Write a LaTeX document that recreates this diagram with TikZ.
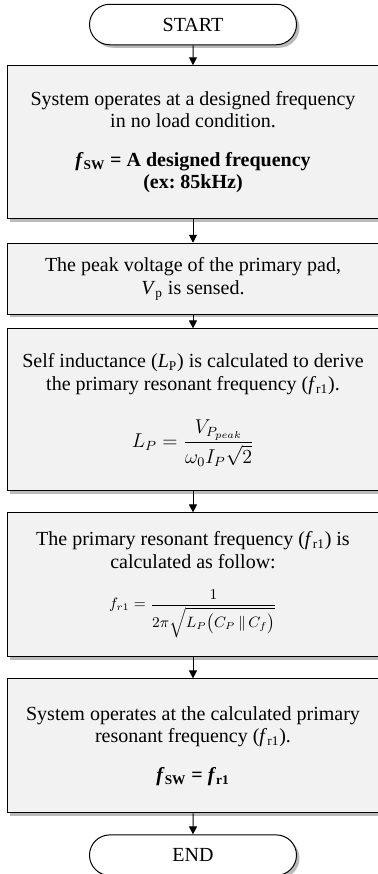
\documentclass[tikz,border=0pt]{standalone}
\usepackage{fontspec}
\setmainfont{Liberation Serif}
\usetikzlibrary{arrows.meta, positioning, shapes.misc, shadows}

\definecolor{boxgray}{HTML}{F2F2F2}

\tikzset{
  flowshadow/.style={drop shadow={shadow xshift=1.8pt, shadow yshift=-1.8pt, fill=black!45, opacity=.6}},
  termbox/.style={draw, rounded rectangle, fill=white, line width=0.6pt,
    minimum width=124.2pt, minimum height=24.3pt, inner sep=0pt, flowshadow},
  procbox/.style={draw, rectangle, fill=boxgray, line width=0.6pt,
    minimum width=223.2pt, text width=218pt, inner xsep=2pt, inner ysep=0pt,
    align=flush center, flowshadow},
  flowarrow/.style={-{Triangle[length=4.8pt,width=4.8pt]}, line width=0.6pt}
}

\begin{document}
\frenchspacing
\begin{tikzpicture}[x=0.6pt, y=-0.6pt, font=\fontsize{12pt}{13.4pt}\selectfont]
\useasboundingbox (0,0) rectangle (378,874);

\node[termbox] (start) at (193,24.5) {START};
\node[procbox, below=12pt of start, minimum height=91.8pt] (operate)
  {System operates at a designed frequency\\ in no load condition.\\[10pt]
   \textbf{\textit{f}\textsubscript{SW} = A designed frequency}\\ \textbf{(ex: 85kHz)}\\[6pt]};
\node[procbox, below=14.1pt of operate, minimum height=42.6pt] (sense)
  {The peak voltage of the primary pad,\\ \textit{V}\textsubscript{p} is sensed.};
\node[procbox, below=8.2pt of sense, minimum height=97.2pt] (induct)
  {Self inductance (\textit{L}\textsubscript{P}) is calculated to derive\\
   the primary resonant frequency (\textit{f}\textsubscript{r1}).\\[14pt]
   $\displaystyle L_P=\frac{V_{P_{peak}}\rule[-3pt]{0pt}{3pt}}{\omega_0 I_P\sqrt{2}}$};
\node[procbox, below=12.6pt of induct, minimum height=86.4pt] (resfreq)
  {The primary resonant frequency (\textit{f}\textsubscript{r1}) is\\
   calculated as follow:\\[11pt]
   {\small$\displaystyle f_{r1}=\frac{1\rule[-2pt]{0pt}{2pt}}{2\pi\sqrt{L_P\bigl(C_P\,\|\,C_f\bigr)}}$}};
\node[procbox, below=12.6pt of resfreq, minimum height=80.4pt] (runres)
  {System operates at the calculated primary\\
   resonant frequency (\textit{f}\textsubscript{r1}).\\[10pt]
   \textbf{\textit{f}\textsubscript{SW} = \textit{f}\textsubscript{r1}}\\[5pt]};
\node[termbox, below=12.6pt of runres] (end) {END};

\draw[flowarrow] (start) -- (operate);
\draw[flowarrow] (operate) -- (sense);
\draw[flowarrow] (sense) -- (induct);
\draw[flowarrow] (induct) -- (resfreq);
\draw[flowarrow] (resfreq) -- (runres);
\draw[flowarrow] (runres) -- (end);
\end{tikzpicture}
\end{document}
